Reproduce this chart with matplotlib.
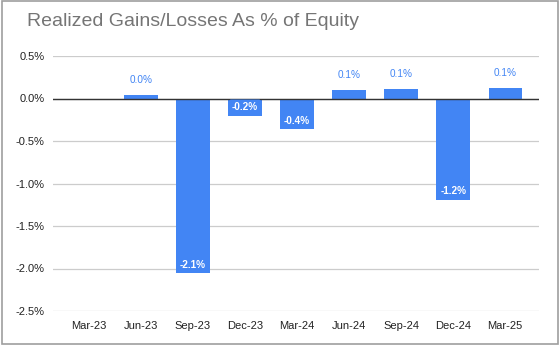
import matplotlib
matplotlib.use("Agg")
import matplotlib.pyplot as plt
from matplotlib.patches import Rectangle

plt.rcParams["font.family"] = ["Liberation Sans", "DejaVu Sans"]

quarters = ["Mar-23", "Jun-23", "Sep-23", "Dec-23", "Mar-24", "Jun-24", "Sep-24", "Dec-24", "Mar-25"]
gains_pct = [None, 0.04, -2.055, -0.20, -0.36, 0.10, 0.11, -1.19, 0.12]
y_ticks = [0.5, 0.0, -0.5, -1.0, -1.5, -2.0, -2.5]

BAR_COLOR = "#4285F4"

fig = plt.figure(figsize=(5.6, 3.46), dpi=100)
# gray frame round the whole chart
fig.patches.append(Rectangle((0.004, 0.006), 0.992, 0.99, transform=fig.transFigure,
                             fill=False, edgecolor="#9e9e9e", linewidth=1.2))
ax = fig.add_axes([53 / 560, 1 - 311 / 346, (539 - 53) / 560, (311 - 56) / 346])

xs = [i for i, v in enumerate(gains_pct) if v is not None]
vals = [v for v in gains_pct if v is not None]
bars = ax.bar(xs, vals, width=0.64, color=BAR_COLOR, zorder=2)

for x, v in zip(xs, vals):
    label = f"{v:.1f}%"
    if v < 0:
        ax.annotate(label, (x, v), xytext=(0, 8.5), textcoords="offset pixels",
                    ha="center", va="center", color="white", fontsize=7.2,
                    fontweight="bold", zorder=3,
                    bbox=dict(boxstyle="round,pad=0.25,rounding_size=0.15",
                              fc=BAR_COLOR, ec="none"))
    else:
        ax.annotate(label, (x, v), xytext=(0, 15), textcoords="offset pixels",
                    ha="center", va="center", color=BAR_COLOR, fontsize=7.2, zorder=3)

ax.axhline(0, color="#333333", linewidth=1.0, zorder=2.5)
ax.set_ylim(-2.5, 0.5)
ax.set_xlim(-0.69, 8.65)
ax.set_yticks(y_ticks)
ax.set_yticklabels([f"{t:.1f}%" for t in y_ticks])
ax.set_xticks(range(len(quarters)))
ax.set_xticklabels(quarters)
ax.grid(axis="y", color="#cccccc", linewidth=0.9, zorder=0)
ax.tick_params(length=0, labelsize=8, colors="#222222", pad=6)
ax.tick_params(axis="x", pad=7)
for s in ax.spines.values():
    s.set_visible(False)

fig.text(27 / 560, 1 - 22 / 346, "Realized Gains/Losses As % of Equity",
         fontsize=14, color="#757575", va="center", ha="left")

fig.savefig("out.png", dpi=100)
